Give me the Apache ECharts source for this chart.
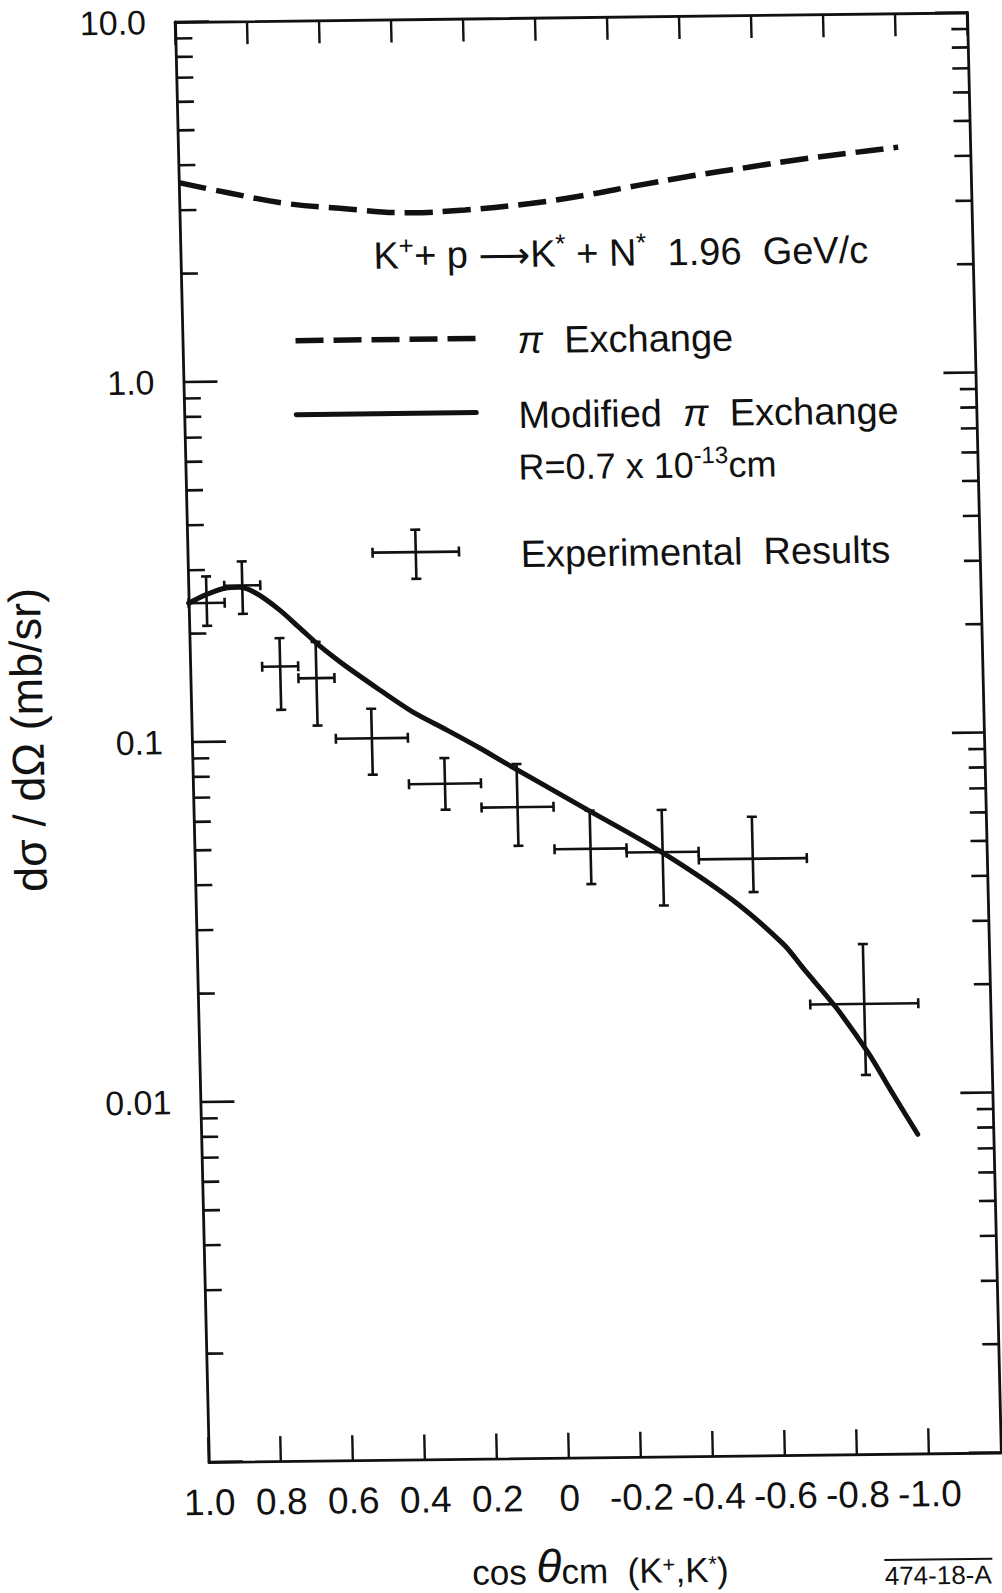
<!DOCTYPE html>
<html>
<head>
<meta charset="utf-8">
<script src="https://cdn.jsdelivr.net/npm/echarts@6/dist/echarts.min.js"></script>
<style>
  html, body { margin: 0; padding: 0; background: #fff; overflow: hidden; }
  #page { position: relative; width: 1002px; height: 1593px; overflow: hidden; background: #fff; }
  /* the drawing sits slightly sheared on the sheet */
  #chart {
    position: absolute; left: -50px; top: -20px; width: 1102px; height: 1640px;
    transform-origin: 225px 42px;
    transform: matrix(1, -0.012, 0.0235, 1, 0, 0);
  }
</style>
</head>
<body>
<div id="page"><div id="chart"></div></div>
<script>
// ---- axis ticks and labels ----
const xTickValues = [1.0, 0.8, 0.6, 0.4, 0.2, 0.0, -0.2, -0.4, -0.6, -0.8, -1.0];
const xTickLabels = ['1.0', '0.8', '0.6', '0.4', '0.2', '0', '-0.2', '-0.4', '-0.6', '-0.8', '-1.0'];
const yLabelDecades = [1, 0, -1, -2];
const yLabelTexts = ['10.0', '1.0', '0.1', '0.01'];

// ---- experimental results: K+ p -> K* N*, 1.96 GeV/c ----
const cosTheta = [0.95, 0.85, 0.75, 0.65, 0.5, 0.3, 0.1, -0.1, -0.3, -0.55, -0.85];
const binLow   = [0.9, 0.8, 0.7, 0.6, 0.4, 0.2, 0.0, -0.2, -0.4, -0.7, -1.0];
const binHigh  = [1.0, 0.9, 0.8, 0.7, 0.6, 0.4, 0.2, 0.0, -0.2, -0.4, -0.7];
const dSigma   = [0.243, 0.271, 0.161, 0.149, 0.101, 0.0751, 0.0643, 0.0490, 0.0477, 0.0454, 0.0178];
const errLow   = [0.210, 0.226, 0.122, 0.110, 0.080, 0.0636, 0.0502, 0.0391, 0.0339, 0.0367, 0.0113];
const errHigh  = [0.288, 0.316, 0.193, 0.188, 0.122, 0.0885, 0.0847, 0.0625, 0.0625, 0.0594, 0.0261];

// ---- pi exchange prediction (dashed) ----
const piCos = [1.0, 0.857, 0.706, 0.555, 0.358, 0.207, 0.025, -0.127, -0.279, -0.431, -0.583, -0.735, -0.887, -1.0];
const piVal = [3.58, 3.33, 3.11, 3.00, 2.90, 2.94, 3.05, 3.20, 3.40, 3.60, 3.78, 3.97, 4.13, 4.25];

// ---- modified pi exchange, R = 0.7e-13 cm (solid) ----
const modCos = [1.0, 0.952, 0.896, 0.859, 0.813, 0.75, 0.694, 0.639, 0.60, 0.566, 0.475, 0.384, 0.292, 0.2, 0.122,
                -0.087, -0.296, -0.49, -0.63, -0.682, -0.77, -0.858, -0.916, -0.99];
const modVal = [0.243, 0.256, 0.267, 0.268, 0.258, 0.232, 0.206, 0.183, 0.170, 0.160, 0.1375, 0.119, 0.106, 0.094, 0.0843,
                0.0635, 0.0478, 0.0350, 0.0262, 0.0225, 0.0175, 0.0130, 0.0103, 0.0077];

// ---- key symbol for the experimental points ----
const keyCos = [0.366], keyLow = [0.246], keyHigh = [0.486];
const keyVal = [0.331], keyErrLow = [0.279], keyErrHigh = [0.382];

const INK = '#111';
const FONT = '"Liberation Sans", Arial, sans-serif';

// log-axis tick marks: decades long, 2..9 short
const yTicks = [];
for (let e = -3; e <= 1; e++) {
  for (let k = 1; k <= 9; k++) {
    if (e === 1 && k > 1) break;
    yTicks.push([1.0, k * Math.pow(10, e), k === 1 ? 1 : 0]);
  }
}

function crossItem(params, api) {
  const x = api.value(0), y = api.value(1);
  const c = api.coord([x, y]);
  const xl = api.coord([api.value(2), y]), xh = api.coord([api.value(3), y]);
  const yl = api.coord([x, api.value(4)]), yh = api.coord([x, api.value(5)]);
  const cap = 5;
  const st = { stroke: INK, lineWidth: 2.6 };
  const ln = (x1, y1, x2, y2) => ({ type: 'line', shape: { x1, y1, x2, y2 }, style: st });
  return {
    type: 'group',
    children: [
      ln(xl[0], c[1], xh[0], c[1]),
      ln(c[0], yl[1], c[0], yh[1]),
      ln(xl[0], c[1] - cap, xl[0], c[1] + cap),
      ln(xh[0], c[1] - cap, xh[0], c[1] + cap),
      ln(c[0] - cap, yl[1], c[0] + cap, yl[1]),
      ln(c[0] - cap, yh[1], c[0] + cap, yh[1])
    ]
  };
}

function tickItem(params, api) {
  const v = api.value(1), major = api.value(2) === 1;
  const L = api.coord([1.0, v]);
  const R = api.coord([-1.2, v]);
  const st = { stroke: INK, lineWidth: 2.6 };
  return {
    type: 'group',
    children: [
      { type: 'line', shape: { x1: L[0], y1: L[1], x2: L[0] + (major ? 34 : 17), y2: L[1] }, style: st },
      { type: 'line', shape: { x1: R[0], y1: R[1], x2: R[0] - (major ? 32 : 16), y2: R[1] }, style: st }
    ]
  };
}

const chart = echarts.init(document.getElementById('chart'), null, { renderer: 'svg' });

const xCommon = {
  type: 'value', min: -1.2, max: 1.0, interval: 0.2, inverse: true,
  splitLine: { show: false },
  axisLine: { show: true, onZero: false, lineStyle: { color: INK, width: 2.8 } }
};
const yCommon = {
  type: 'log', logBase: 10, min: 0.001, max: 10,
  splitLine: { show: false },
  axisTick: { show: false },
  axisLine: { show: true, onZero: false, lineStyle: { color: INK, width: 2.8 } }
};

const option = {
  animation: false,
  backgroundColor: '#fff',
  grid: { left: 225, top: 42, width: 792, height: 1440, containLabel: false, outerBoundsMode: 'none' },
  xAxis: [
    Object.assign({}, xCommon, {
      position: 'bottom',
      axisTick: { show: true, inside: true, length: 25, lineStyle: { color: INK, width: 2.4 } },
      axisLabel: {
        show: true, margin: 22, fontSize: 37, fontFamily: FONT, color: INK,
        showMinLabel: false, showMaxLabel: true,
        formatter: v => {
          const i = xTickValues.findIndex(t => Math.abs(t - v) < 1e-6);
          return i < 0 ? '' : xTickLabels[i];
        }
      }
    }),
    Object.assign({}, xCommon, {
      position: 'top',
      axisTick: { show: true, inside: true, length: 23, lineStyle: { color: INK, width: 2.4 } },
      axisLabel: { show: false }
    })
  ],
  yAxis: [
    Object.assign({}, yCommon, {
      position: 'left',
      axisLabel: {
        show: true, margin: 29, fontSize: 34, fontFamily: FONT, color: INK,
        showMinLabel: false, showMaxLabel: true,
        formatter: v => {
          const e = Math.round(Math.log10(v));
          const i = yLabelDecades.indexOf(e);
          return i < 0 ? '' : yLabelTexts[i];
        }
      }
    }),
    Object.assign({}, yCommon, {
      position: 'right',
      axisLabel: { show: false }
    })
  ],
  series: [
    {
      name: 'log ticks', type: 'custom', xAxisIndex: 0, yAxisIndex: 0,
      renderItem: tickItem, data: yTicks, encode: { x: 0, y: 1 }, silent: true
    },
    {
      name: 'π Exchange', type: 'line', xAxisIndex: 0, yAxisIndex: 0,
      data: piCos.map((c, i) => [c, piVal[i]]),
      smooth: 0.4, symbol: 'none',
      lineStyle: { color: INK, width: 5.5, type: [28, 10], cap: 'butt' }
    },
    {
      name: 'Modified π Exchange', type: 'line', xAxisIndex: 0, yAxisIndex: 0,
      data: modCos.map((c, i) => [c, modVal[i]]),
      smooth: 0.3, symbol: 'none',
      lineStyle: { color: INK, width: 5, cap: 'round', join: 'round' }
    },
    {
      name: 'Experimental Results', type: 'custom', xAxisIndex: 0, yAxisIndex: 0,
      renderItem: crossItem, encode: { x: 0, y: 1 },
      data: cosTheta.map((c, i) => [c, dSigma[i], binLow[i], binHigh[i], errLow[i], errHigh[i]])
    },
    {
      name: 'key', type: 'custom', xAxisIndex: 0, yAxisIndex: 0,
      renderItem: crossItem, encode: { x: 0, y: 1 },
      data: keyCos.map((c, i) => [c, keyVal[i], keyHigh[i], keyLow[i], keyErrLow[i], keyErrHigh[i]])
    }
  ],
  graphic: [
    {
      type: 'text', x: 418, y: 276,
      style: {
        text: '{n|K}{s|+}{n|+ p }{a|⟶}{n|K}{s|*}{n| + N}{s|*}{n|  1.96  GeV/c}',
        align: 'left', verticalAlign: 'middle', fill: INK,
        rich: {
          n: { fontSize: 38, fontFamily: FONT, fill: INK, lineHeight: 42, verticalAlign: 'bottom' },
          s: { fontSize: 26, fontFamily: FONT, fill: INK, lineHeight: 26, verticalAlign: 'top' },
          a: { fontSize: 36, fontFamily: '"DejaVu Sans", sans-serif', fill: INK, lineHeight: 42, verticalAlign: 'bottom' }
        }
      }
    },
    { type: 'line', shape: { x1: 338, y1: 362, x2: 518, y2: 362 },
      style: { stroke: INK, lineWidth: 5.5, lineDash: [28, 10] } },
    {
      type: 'text', x: 560, y: 364,
      style: {
        text: '{p|π}{n|  Exchange}', align: 'left', verticalAlign: 'middle', fill: INK,
        rich: {
          p: { fontSize: 38, fontFamily: FONT, fontStyle: 'italic', fill: INK },
          n: { fontSize: 38, fontFamily: FONT, fill: INK }
        }
      }
    },
    { type: 'line', shape: { x1: 337, y1: 436, x2: 517, y2: 436 },
      style: { stroke: INK, lineWidth: 5, lineCap: 'round' } },
    {
      type: 'text', x: 559, y: 439,
      style: {
        text: '{n|Modified  }{p|π}{n|  Exchange}', align: 'left', verticalAlign: 'middle', fill: INK,
        rich: {
          p: { fontSize: 38, fontFamily: FONT, fontStyle: 'italic', fill: INK },
          n: { fontSize: 38, fontFamily: FONT, fill: INK }
        }
      }
    },
    {
      type: 'text', x: 558, y: 489,
      style: {
        text: '{n|R=0.7 x 10}{s|-13}{n|cm}', align: 'left', verticalAlign: 'middle', fill: INK,
        rich: {
          n: { fontSize: 36, fontFamily: FONT, fill: INK, lineHeight: 40, verticalAlign: 'bottom' },
          s: { fontSize: 24, fontFamily: FONT, fill: INK, lineHeight: 24, verticalAlign: 'top' }
        }
      }
    },
    {
      type: 'text', x: 558, y: 578,
      style: { text: 'Experimental  Results', fontSize: 38, fontFamily: FONT, fill: INK,
               align: 'left', verticalAlign: 'middle' }
    },
    {
      type: 'text', x: 61, y: 758, rotation: Math.PI / 2,
      style: { text: 'dσ / dΩ (mb/sr)', fontSize: 45, fontFamily: FONT, fill: INK,
               align: 'center', verticalAlign: 'middle' }
    },
    {
      type: 'text', x: 614, y: 1596,
      style: {
        text: '{n|cos }{t|θ}{n|cm  (K}{s|+}{n|,K}{s|*}{n|)}', align: 'center', verticalAlign: 'middle', fill: INK,
        rich: {
          n: { fontSize: 35, fontFamily: FONT, fill: INK, lineHeight: 34, verticalAlign: 'bottom' },
          t: { fontSize: 46, fontFamily: FONT, fontStyle: 'italic', fill: INK, lineHeight: 34, verticalAlign: 'bottom' },
          s: { fontSize: 22, fontFamily: FONT, fill: INK, lineHeight: 22, verticalAlign: 'top' }
        }
      }
    },
    {
      type: 'text', x: 898, y: 1604,
      style: { text: '474-18-A', fontSize: 26, fontFamily: FONT, fill: INK, align: 'left', verticalAlign: 'middle' }
    },
    { type: 'line', shape: { x1: 898, y1: 1588, x2: 1006, y2: 1588 },
      style: { stroke: INK, lineWidth: 2 } }
  ]
};

chart.setOption(option);
</script>
</body>
</html>
